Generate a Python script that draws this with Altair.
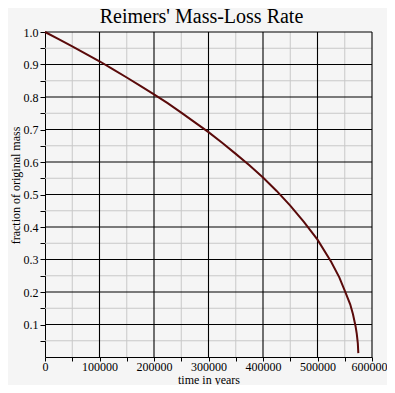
import altair as alt
import pandas as pd

# data
time_years = [0, 25000, 50000, 75000, 100000, 125000, 150000, 175000, 200000,
              225000, 250000, 275000, 300000, 325000, 350000, 375000, 400000,
              425000, 450000, 475000, 500000, 525000, 540000, 550000, 560000,
              565000, 570000, 572000, 574000, 574900]
mass_fraction = [1.000, 0.978, 0.956, 0.933, 0.910, 0.885, 0.860, 0.834, 0.808,
                 0.781, 0.752, 0.722, 0.692, 0.659, 0.625, 0.590, 0.552,
                 0.511, 0.466, 0.416, 0.361, 0.293, 0.245, 0.204, 0.162,
                 0.132, 0.093, 0.072, 0.042, 0.012]

x_major = [100000, 200000, 300000, 400000, 500000, 600000]
x_minor = [50000, 150000, 250000, 350000, 450000, 550000]
y_major = [0.1, 0.2, 0.3, 0.4, 0.5, 0.6, 0.7, 0.8, 0.9, 1.0]
y_minor = [0.05, 0.15, 0.25, 0.35, 0.45, 0.55, 0.65, 0.75, 0.85, 0.95]
x_ticks = [0, 50000, 100000, 150000, 200000, 250000, 300000, 350000, 400000,
           450000, 500000, 550000, 600000]
y_ticks = [0.05, 0.1, 0.15, 0.2, 0.25, 0.3, 0.35, 0.4, 0.45, 0.5, 0.55, 0.6,
           0.65, 0.7, 0.75, 0.8, 0.85, 0.9, 0.95, 1.0]

df = pd.DataFrame({"t": time_years, "m": mass_fraction})

FONT = "Liberation Serif"
xs = alt.Scale(domain=[0, 600000], nice=False)
ys = alt.Scale(domain=[0, 1.0], nice=False)

x_axis = alt.Axis(values=x_ticks, format="d", grid=False, labelFlush=False,
                  labelExpr="datum.value % 100000 == 0 ? datum.label : ''",
                  labelOffset={"condition": {"test": "datum.value >= 600000", "value": -3}, "value": 0},
                  labelBaseline="alphabetic",
                  domainColor="black", tickColor="black", tickSize=4,
                  labelPadding=9, titleY=26, titleBaseline="alphabetic")
y_axis = alt.Axis(values=y_ticks, grid=False, labelFlush=False,
                  labelExpr="(round(datum.value*20) % 2 == 0) ? format(datum.value, '.1f') : ''",
                  domainColor="black", tickColor="black", tickSize=5,
                  labelPadding=2, titlePadding=1, titleY=153)


def X(field):
    return alt.X(field, scale=xs, title="time in years", axis=x_axis)


def Y(field):
    return alt.Y(field, scale=ys, title="fraction of original mass", axis=y_axis)


xminor = alt.Chart(pd.DataFrame({"v": x_minor})).mark_rule(color="#c8c8c8", strokeWidth=1).encode(x=X("v:Q"))
yminor = alt.Chart(pd.DataFrame({"v": y_minor})).mark_rule(color="#c8c8c8", strokeWidth=1).encode(y=Y("v:Q"))
xmajor = alt.Chart(pd.DataFrame({"v": x_major})).mark_rule(color="black", strokeWidth=1.1).encode(x=X("v:Q"))
ymajor = alt.Chart(pd.DataFrame({"v": y_major})).mark_rule(color="black", strokeWidth=1.1).encode(y=Y("v:Q"))

line = alt.Chart(df).mark_line(color="#5a0a0a", strokeWidth=2).encode(x=X("t:Q"), y=Y("m:Q"))

chart = alt.layer(xminor, yminor, xmajor, ymajor, line).properties(
    width=327, height=325,
    padding={"left": 37, "top": 24, "right": 15, "bottom": 28},
    autosize=alt.AutoSizeParams(type="none"),
    background="#f5f5f5",
    title=alt.TitleParams("Reimers' Mass-Loss Rate", font=FONT, fontSize=20,
                          fontWeight="normal", color="black", anchor="middle",
                          frame="group", dx=-7, offset=-1),
).configure_view(stroke=None, fill="#f5f5f5").configure_axis(
    labelFont=FONT, titleFont=FONT, labelFontSize=12, titleFontSize=12,
    titleFontWeight="normal", labelColor="black", titleColor="black"
)

chart.save("out.html", embed_options={"renderer": "svg", "actions": False})
